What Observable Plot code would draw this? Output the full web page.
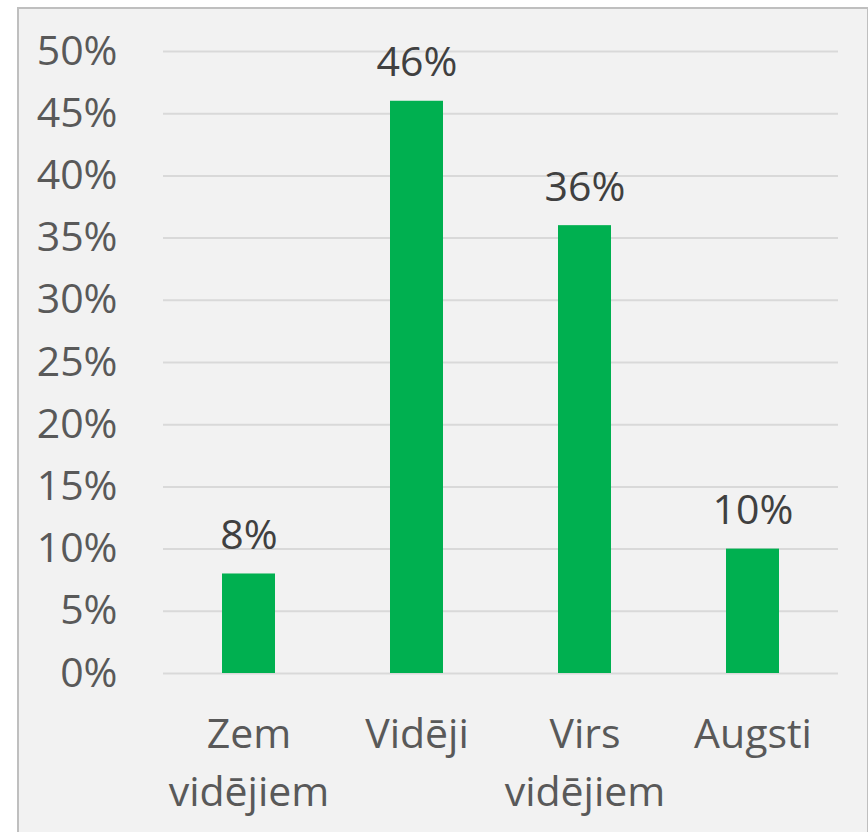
<!DOCTYPE html>
<html>
<head>
<meta charset="utf-8">
<script src="https://cdn.jsdelivr.net/npm/d3@7"></script>
<script src="https://cdn.jsdelivr.net/npm/@observablehq/plot@0.6"></script>
<style>
  html, body { margin: 0; padding: 0; background: #ffffff; }
  #wrap { position: relative; width: 868px; height: 832px; overflow: hidden; }
  #frame { position: absolute; left: 17px; top: 7px; width: 848px; height: 900px;
           border: 2px solid #BFBFBF; background: #F2F2F2; }
  #chart { position: absolute; left: 0; top: 0; }
  #chart svg { background: transparent; }
</style>
</head>
<body>
<div id="wrap">
  <div id="frame"></div>
  <div id="chart"></div>
</div>
<script>
const categories = ["Zem\nvidējiem", "Vidēji", "Virs\nvidējiem", "Augsti"];
const values = [0.08, 0.46, 0.36, 0.10];
const yTicks = [0, 0.05, 0.10, 0.15, 0.20, 0.25, 0.30, 0.35, 0.40, 0.45, 0.50];

const data = categories.map((c, i) => ({category: c, value: values[i]}));
const font = "'Open Sans', 'Noto Sans', sans-serif";

const chart = Plot.plot({
  width: 868,
  height: 832,
  marginLeft: 163,
  marginRight: 30,
  marginTop: 51,
  marginBottom: 159,
  style: {fontFamily: font, fontSize: "41px", background: "transparent", overflow: "visible"},
  x: {domain: categories, paddingInner: 0.686, paddingOuter: 0.343, label: null},
  y: {domain: [0, 0.5], label: null},
  marks: [
    Plot.ruleY(yTicks, {stroke: "#D9D9D9", strokeWidth: 2}),
    Plot.barY(data, {x: "category", y: "value", fill: "#00B050"}),
    Plot.text(data, {x: "category", y: "value", text: d => Math.round(d.value * 100) + "%",
      lineAnchor: "bottom", dy: -25, fill: "#404040", fontSize: 41}),
    Plot.axisY({ticks: yTicks, tickFormat: d => Math.round(d * 100) + "%", tickSize: 0,
      tickPadding: 46, fill: "#595959", fontSize: 41, label: null}),
    Plot.axisX({tickSize: 0, tickPadding: 33, fill: "#595959", fontSize: 41,
      lineHeight: 1.42, label: null})
  ]
});
document.getElementById("chart").appendChild(chart);
</script>
</body>
</html>
